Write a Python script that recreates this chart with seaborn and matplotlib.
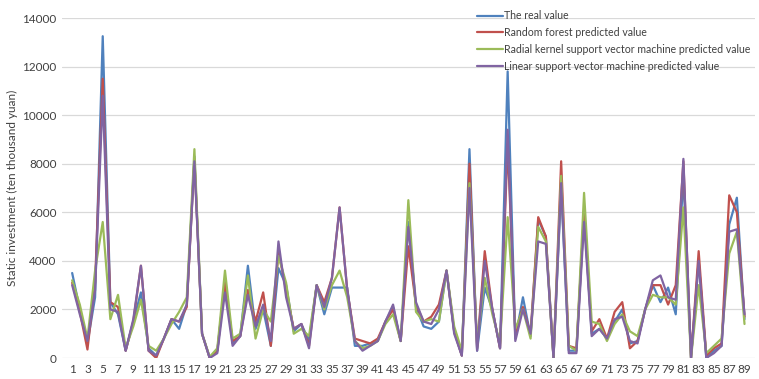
import numpy as np
import pandas as pd
import matplotlib
matplotlib.use("Agg")
import matplotlib.pyplot as plt
import seaborn as sns

idx = list(range(1, 90))
real = [3500, 2000, 600, 2500, 13250, 2300, 1800, 300, 1500, 2700,
        400, 100, 800, 1600, 1200, 2200, 8300, 1000, 0, 300,
        3200, 600, 900, 3800, 1200, 2000, 500, 3700, 3000, 1100,
        1400, 700, 3000, 1800, 2900, 2900, 2900, 500, 500, 600,
        700, 1500, 2100, 700, 5600, 2100, 1300, 1200, 1500, 3600,
        1100, 100, 8600, 300, 2900, 2000, 400, 11800, 800, 2500,
        900, 5700, 5000, 0, 7000, 300, 300, 6000, 1000, 1200,
        800, 1500, 2000, 600, 700, 2000, 3000, 2300, 2900, 1800,
        7500, 0, 4000, 0, 300, 500, 5500, 6600, 1600]
rf = [3100, 1900, 350, 3100, 11500, 2300, 2100, 300, 1500, 3800,
      300, 0, 800, 1600, 1500, 2100, 8200, 1000, 0, 300,
      3100, 700, 900, 2800, 1500, 2700, 500, 4400, 2800, 1200,
      1400, 500, 3000, 2300, 3300, 6200, 2800, 800, 700, 600,
      800, 1500, 2000, 700, 4600, 2200, 1500, 1700, 2200, 3600,
      1100, 100, 8000, 400, 4400, 2000, 400, 8800, 1000, 2100,
      1000, 5800, 5000, 0, 8100, 500, 400, 6000, 1100, 1600,
      800, 1900, 2300, 400, 700, 2000, 3000, 3000, 2200, 3000,
      8100, 0, 4400, 100, 400, 600, 6700, 6000, 1700]
rbf = [3200, 2200, 800, 3600, 5600, 1600, 2600, 400, 1300, 2400,
       500, 300, 800, 1400, 1900, 2500, 8600, 1000, 50, 400,
       3600, 800, 1000, 3400, 800, 2000, 1500, 4200, 3100, 1000,
       1200, 900, 3000, 2000, 3000, 3600, 2500, 700, 400, 500,
       700, 1400, 1800, 700, 6500, 1900, 1500, 1600, 1500, 3600,
       1300, 300, 7200, 600, 3300, 1800, 600, 5800, 1200, 2000,
       800, 5400, 4800, 0, 7500, 500, 300, 6800, 1500, 1400,
       700, 1400, 1800, 1100, 900, 2000, 2600, 2500, 2500, 2200,
       6200, 0, 3000, 200, 500, 800, 4300, 5200, 1400]
lin = [3000, 1800, 700, 2800, 10800, 2000, 1900, 300, 1600, 3800,
       300, 100, 800, 1600, 1500, 2200, 8100, 1000, 0, 200,
       2700, 500, 900, 2600, 1300, 2200, 700, 4800, 2500, 1200,
       1400, 400, 3000, 2100, 3300, 6200, 2800, 700, 300, 500,
       700, 1500, 2200, 700, 5400, 2300, 1500, 1400, 2000, 3600,
       1000, 100, 7000, 300, 4000, 2000, 400, 9400, 700, 2000,
       1000, 4800, 4700, 0, 7200, 200, 200, 5600, 900, 1200,
       800, 1600, 1700, 700, 600, 2000, 3200, 3400, 2500, 2400,
       8200, 0, 4000, 0, 200, 500, 5200, 5300, 1800]

names = ["The real value", "Random forest predicted value",
         "Radial kernel support vector machine predicted value",
         "Linear support vector machine predicted value"]
colors = ["#4F81BD", "#C0504D", "#9BBB59", "#8064A2"]

df = pd.concat([pd.DataFrame({"idx": idx, "value": v, "series": n})
                for v, n in zip([real, rf, rbf, lin], names)])

sns.set_style("white")
plt.rcParams["font.family"] = ["Lato", "DejaVu Sans"]

fig = plt.figure(figsize=(7.59, 3.79), dpi=100)
ax = fig.add_axes([0.082, 0.0554, 0.913, 0.8971])
sns.lineplot(data=df, x="idx", y="value", hue="series", hue_order=names,
             palette=colors, linewidth=1.6, ax=ax, legend=True)

ax.set_xlim(-0.3, 90.4)
ax.set_ylim(0, 14000)
ax.set_yticks(range(0, 14001, 2000))
ax.set_yticklabels([str(v) for v in range(0, 14001, 2000)], fontsize=8.5, color="#404040")
ax.set_xticks(list(range(1, 90, 2)))
ax.set_xticklabels([str(v) for v in range(1, 90, 2)], fontsize=8.5, color="#404040")
ax.tick_params(axis="both", length=0, pad=4)
ax.yaxis.grid(True, color="#D9D9D9", linewidth=0.9)
ax.xaxis.grid(False)
for s in ax.spines.values():
    s.set_visible(False)
ax.set_xlabel("")
ax.set_ylabel("Static investment (ten thousand yuan)", fontsize=8.5, color="#404040", labelpad=3)

leg = ax.legend(loc="upper left", bbox_to_anchor=(0.593, 1.035), frameon=False,
                fontsize=7.6, handlelength=2.4, handletextpad=0.1,
                labelspacing=0.55, borderaxespad=0)
for t in leg.get_texts():
    t.set_color("#404040")

fig.savefig("out.png", dpi=100)
